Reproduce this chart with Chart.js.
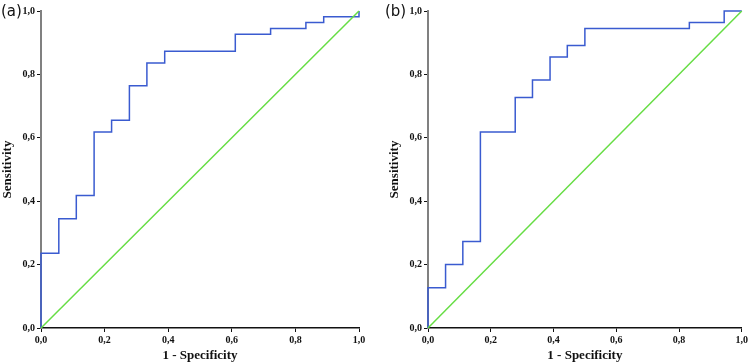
<!DOCTYPE html>
<html>
<head>
<meta charset="utf-8">
<script src="https://cdn.jsdelivr.net/npm/chart.js@4/dist/chart.umd.min.js"></script>
<style>
  html, body { margin: 0; padding: 0; background: #fff; }
  #wrap { position: relative; width: 750px; height: 364px; }
  .pane { position: absolute; top: 0; width: 375px; height: 364px; }
  .lbl { position: absolute; top: 0; font-family: "DejaVu Sans", sans-serif; font-size: 15px; line-height: 22px; color: #111; }
</style>
</head>
<body>
<div id="wrap">
  <div class="pane" style="left:0"><canvas id="ca" width="375" height="364"></canvas></div>
  <div class="pane" style="left:375px"><canvas id="cb" width="375" height="364"></canvas></div>
  <div class="lbl" style="left:1px">(a)</div>
  <div class="lbl" style="left:385px">(b)</div>
</div>
<script>
// ROC step points (1 - specificity, sensitivity)
const fprA = [0, 0, 0.056, 0.111, 0.167, 0.222, 0.278, 0.333, 0.389, 0.611, 0.722, 0.833, 0.889, 1.0];
const tprA = [0, 0.236, 0.345, 0.418, 0.618, 0.655, 0.764, 0.836, 0.873, 0.927, 0.945, 0.964, 0.982, 1.0];
const fprB = [0, 0, 0.056, 0.111, 0.167, 0.278, 0.333, 0.389, 0.444, 0.5, 0.833, 0.944, 1.0];
const tprB = [0, 0.127, 0.2, 0.273, 0.618, 0.727, 0.782, 0.855, 0.891, 0.945, 0.964, 1.0, 1.0];
const refX = [0, 1];
const refY = [0, 1];
const tickValues = [0, 0.2, 0.4, 0.6, 0.8, 1.0];
const xTitle = '1 - Specificity';
const yTitle = 'Sensitivity';

const toPts = (xs, ys) => xs.map((x, i) => ({x: x, y: ys[i]}));
const fmt = v => v.toFixed(1).replace('.', ',');
const tickFont = {family: '"Liberation Serif", serif', size: 10, weight: 'bold'};

function makeChart(id, xs, ys, padLeft, padRight) {
  new Chart(document.getElementById(id), {
    type: 'scatter',
    data: {
      datasets: [
        { data: toPts(refX, refY), showLine: true, borderColor: '#66dd44', borderWidth: 1.5,
          pointRadius: 0, clip: false },
        { data: toPts(xs, ys), showLine: true, stepped: 'before', borderColor: '#3a5bd0',
          borderWidth: 1.5, pointRadius: 0, clip: false }
      ]
    },
    options: {
      responsive: false,
      animation: false,
      layout: { padding: { left: padLeft, right: padRight, top: 11, bottom: 0 } },
      plugins: { legend: { display: false }, tooltip: { enabled: false } },
      scales: {
        x: {
          type: 'linear', min: 0, max: 1,
          afterBuildTicks: s => { s.ticks = tickValues.map(v => ({value: v})); },
          afterFit: s => { s.height = 36; },
          ticks: { callback: v => fmt(v), font: tickFont, color: '#111', padding: 2, maxRotation: 0 },
          grid: { drawOnChartArea: false, drawTicks: true, tickLength: 4, color: '#111', lineWidth: 1 },
          border: { color: '#111', width: 1.5 },
          title: { display: true, text: xTitle, color: '#111',
                   font: {family: '"Liberation Serif", serif', size: 13, weight: 'bold'},
                   padding: {top: 0, bottom: 1} }
        },
        y: {
          type: 'linear', min: 0, max: 1,
          afterBuildTicks: s => { s.ticks = tickValues.map(v => ({value: v})); },
          afterFit: s => { s.width = 41; },
          ticks: { callback: v => fmt(v), font: tickFont, color: '#111', padding: 2 },
          grid: { drawOnChartArea: false, drawTicks: true, tickLength: 4, color: '#111', lineWidth: 1 },
          border: { color: '#808080', width: 2 },
          title: { display: true, text: yTitle, color: '#111',
                   font: {family: '"Liberation Serif", serif', size: 13, weight: 'bold', lineHeight: 1.2},
                   padding: {top: 0, bottom: 0} }
        }
      }
    }
  });
}
makeChart('ca', fprA, tprA, 0, 16);
makeChart('cb', fprB, tprB, 12, 6);
</script>
</body>
</html>
